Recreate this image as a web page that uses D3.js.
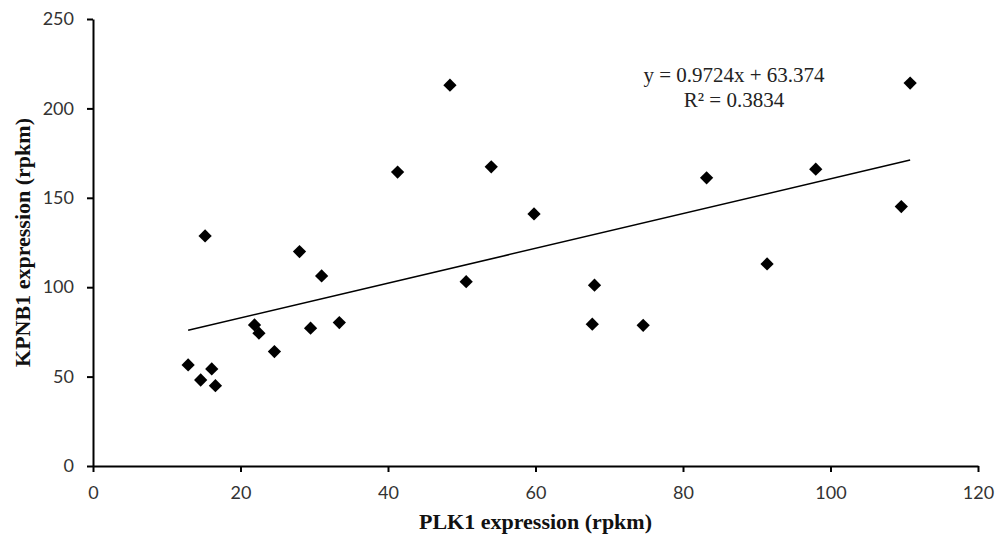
<!DOCTYPE html>
<html>
<head>
<meta charset="utf-8">
<script src="https://cdn.jsdelivr.net/npm/d3@7"></script>
<style>
  html, body { margin: 0; padding: 0; background: #fff; }
  svg { display: block; }
</style>
</head>
<body>
<svg id="chart" width="998" height="547"></svg>
<script>
// PLK1 vs KPNB1 expression
const plk1 = [12.9, 14.6, 15.2, 16.1, 16.6, 21.9, 22.5, 24.6, 28.0, 29.5, 31.0, 33.4, 41.3,
  48.4, 50.6, 54.0, 59.8, 67.7, 68.0, 74.6, 83.2, 91.4, 98.0, 109.6, 110.8];
const kpnb1 = [56.5, 48.1, 128.7, 54.3, 44.9, 78.9, 74.3, 64.0, 119.9, 77.1, 106.3, 80.2, 164.4,
  213.0, 103.1, 167.3, 141.0, 79.3, 101.1, 78.7, 161.2, 113.0, 166.0, 145.1, 214.2];
const xTicks = [0, 20, 40, 60, 80, 100, 120];
const yTicks = [0, 50, 100, 150, 200, 250];
const slope = 0.9724, intercept = 63.374;
const eqLines = ['y = 0.9724x + 63.374', 'R² = 0.3834'];

const svg = d3.select('#chart');
const margin = { left: 93, right: 20, top: 19, bottom: 81 };
const width = 998, height = 547;

const x = d3.scaleLinear().domain([0, 120]).range([margin.left, width - margin.right]);
const y = d3.scaleLinear().domain([0, 250]).range([height - margin.bottom, margin.top]);

// axes
const xAxis = svg.append('g')
  .attr('transform', `translate(0,${y(0)})`)
  .call(d3.axisBottom(x).tickValues(xTicks).tickSize(6).tickSizeOuter(0));
const yAxis = svg.append('g')
  .attr('transform', `translate(${x(0)},0)`)
  .call(d3.axisLeft(y).tickValues(yTicks).tickSize(6).tickSizeOuter(0));

[xAxis, yAxis].forEach(a => {
  a.select('.domain').attr('stroke', '#000').attr('stroke-width', 2);
  a.selectAll('.tick line').attr('stroke', '#000').attr('stroke-width', 2);
  a.selectAll('.tick text')
    .attr('font-family', 'Lato, sans-serif')
    .attr('font-size', '18px')
    .attr('fill', '#333');
});
xAxis.selectAll('.tick text').attr('dy', '0.71em').attr('y', 20);
yAxis.selectAll('.tick text').attr('x', -19);

// trend line over the data range
const xs = d3.extent(plk1);
svg.append('line')
  .attr('x1', x(xs[0])).attr('y1', y(slope * xs[0] + intercept))
  .attr('x2', x(xs[1])).attr('y2', y(slope * xs[1] + intercept))
  .attr('stroke', '#000').attr('stroke-width', 1.5);

// diamond markers
const diamond = d3.symbol().type(d3.symbolSquare).size(88);
svg.append('g').selectAll('path')
  .data(d3.zip(plk1, kpnb1))
  .enter().append('path')
    .attr('d', diamond)
    .attr('transform', d => `translate(${x(d[0])},${y(d[1])}) rotate(45)`)
    .attr('fill', '#000');

// equation
svg.append('g').selectAll('text')
  .data(eqLines)
  .enter().append('text')
    .attr('x', 734)
    .attr('y', (d, i) => 82 + i * 25)
    .attr('text-anchor', 'middle')
    .attr('font-family', '"Liberation Serif", "Times New Roman", serif')
    .attr('font-size', '21px')
    .attr('fill', '#222')
    .text(d => d);

// axis titles
svg.append('text')
  .attr('x', (x(0) + x(120)) / 2)
  .attr('y', 529)
  .attr('text-anchor', 'middle')
  .attr('font-family', '"Liberation Serif", "Times New Roman", serif')
  .attr('font-weight', 'bold')
  .attr('font-size', '22px')
  .attr('fill', '#111')
  .text('PLK1 expression (rpkm)');

svg.append('text')
  .attr('transform', `translate(30,${(y(0) + y(250)) / 2}) rotate(-90)`)
  .attr('text-anchor', 'middle')
  .attr('font-family', '"Liberation Serif", "Times New Roman", serif')
  .attr('font-weight', 'bold')
  .attr('font-size', '22px')
  .attr('fill', '#111')
  .text('KPNB1 expression (rpkm)');
</script>
</body>
</html>
